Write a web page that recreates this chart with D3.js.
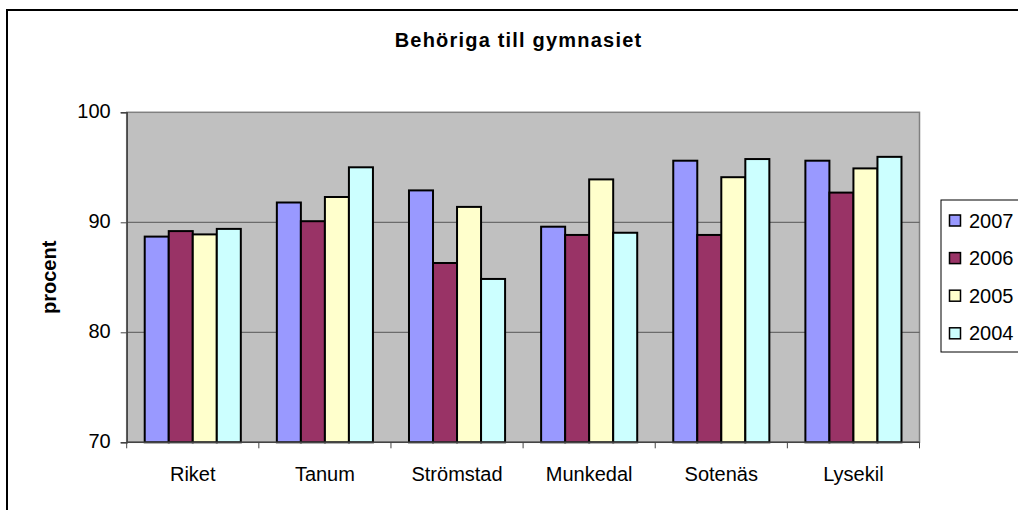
<!DOCTYPE html>
<html>
<head>
<meta charset="utf-8">
<script src="https://cdn.jsdelivr.net/npm/d3@7"></script>
<style>
  body { margin: 0; background: #fff; }
  svg { display: block; font-family: "Liberation Sans", Arial, sans-serif; }
</style>
</head>
<body>
<script>
const categories = ["Riket", "Tanum", "Strömstad", "Munkedal", "Sotenäs", "Lysekil"];
const seriesNames = ["2007", "2006", "2005", "2004"];
const seriesColors = ["#9999FF", "#993366", "#FFFFCC", "#CCFFFF"];
const v2007 = [88.7, 91.8, 92.9, 89.6, 95.6, 95.6];
const v2006 = [89.2, 90.1, 86.3, 88.85, 88.85, 92.7];
const v2005 = [88.9, 92.3, 91.4, 93.9, 94.1, 94.9];
const v2004 = [89.4, 95.0, 84.85, 89.05, 95.75, 95.95];
const yTicks = [70, 80, 90, 100];

const values = [v2007, v2006, v2005, v2004];
const width = 1018, height = 510;
const plotLeft = 126.7, plotRight = 919.5, plotTop = 112.3, plotBottom = 442.3;

const svg = d3.select("body").append("svg")
  .attr("width", width)
  .attr("height", height);

// chart frame (runs off the right and bottom edge)
svg.append("rect")
  .attr("x", 7).attr("y", 10)
  .attr("width", 1040).attr("height", 540)
  .attr("fill", "#fff")
  .attr("stroke", "#000")
  .attr("stroke-width", 2);

const x0 = d3.scaleBand()
  .domain(categories)
  .range([plotLeft, plotRight])
  .paddingInner(1.5 / 5.5)
  .paddingOuter(0.75 / 5.5);
const x1 = d3.scaleBand()
  .domain(seriesNames)
  .range([0, x0.bandwidth()]);
const y = d3.scaleLinear().domain([70, 100]).range([plotBottom, plotTop]);

// plot area
svg.append("rect")
  .attr("x", plotLeft).attr("y", plotTop)
  .attr("width", plotRight - plotLeft).attr("height", plotBottom - plotTop)
  .attr("fill", "#c0c0c0")
  .attr("stroke", "#808080")
  .attr("stroke-width", 1.5);

// gridlines
svg.append("g")
  .selectAll("line")
  .data(yTicks.slice(1, -1))
  .join("line")
  .attr("x1", plotLeft).attr("x2", plotRight)
  .attr("y1", d => y(d)).attr("y2", d => y(d))
  .attr("stroke", "#555")
  .attr("stroke-width", 1);

// bars
const table = categories.map((c, i) => ({ cat: c, vals: seriesNames.map((s, j) => ({ s, j, v: values[j][i] })) }));
svg.append("g")
  .selectAll("g")
  .data(table)
  .join("g")
  .attr("transform", d => `translate(${x0(d.cat)},0)`)
  .selectAll("rect")
  .data(d => d.vals)
  .join("rect")
  .attr("x", d => x1(d.s))
  .attr("y", d => y(d.v))
  .attr("width", x1.bandwidth())
  .attr("height", d => y(70) - y(d.v))
  .attr("fill", d => seriesColors[d.j])
  .attr("stroke", "#000")
  .attr("stroke-width", 2);

// y axis
const yAxis = svg.append("g")
  .attr("transform", `translate(${plotLeft},0)`)
  .call(d3.axisLeft(y).tickValues(yTicks).tickSize(6).tickPadding(10));
yAxis.select(".domain").attr("stroke", "#444").attr("stroke-width", 1.5);
yAxis.selectAll(".tick line").attr("stroke", "#444");
yAxis.selectAll(".tick text")
  .attr("font-size", 20)
  .attr("font-family", "Liberation Sans, Arial, sans-serif")
  .attr("fill", "#000")
  .attr("dy", "0.28em");

// x axis line and ticks at category boundaries
const boundaries = categories.map(c => x0(c) - x0.step() * x0.paddingOuter()).concat([plotRight]);
svg.append("line")
  .attr("x1", plotLeft).attr("x2", plotRight)
  .attr("y1", plotBottom).attr("y2", plotBottom)
  .attr("stroke", "#444").attr("stroke-width", 1.5);
svg.append("g")
  .selectAll("line")
  .data(boundaries)
  .join("line")
  .attr("x1", d => d).attr("x2", d => d)
  .attr("y1", plotBottom).attr("y2", plotBottom + 6)
  .attr("stroke", "#444");
svg.append("g")
  .selectAll("text")
  .data(categories)
  .join("text")
  .attr("x", d => x0(d) + x0.bandwidth() / 2)
  .attr("y", 481)
  .attr("text-anchor", "middle")
  .attr("font-size", 20)
  .text(d => d);

// title
svg.append("text")
  .attr("x", 518.5).attr("y", 47)
  .attr("text-anchor", "middle")
  .attr("font-size", 20)
  .attr("font-weight", "bold")
  .attr("letter-spacing", 1.2)
  .text("Behöriga till gymnasiet");

// y axis title
svg.append("text")
  .attr("transform", `translate(56,${(plotTop + plotBottom) / 2}) rotate(-90)`)
  .attr("text-anchor", "middle")
  .attr("font-size", 20)
  .attr("font-weight", "bold")
  .text("procent");

// legend
const legend = svg.append("g");
legend.append("rect")
  .attr("x", 941).attr("y", 200)
  .attr("width", 120).attr("height", 152)
  .attr("fill", "#fff")
  .attr("stroke", "#000")
  .attr("stroke-width", 1);
const rows = legend.selectAll("g.row")
  .data(seriesNames)
  .join("g")
  .attr("class", "row")
  .attr("transform", (d, i) => `translate(0,${220.5 + i * 37.6})`);
rows.append("rect")
  .attr("x", 949.5).attr("y", -5.5)
  .attr("width", 11).attr("height", 11)
  .attr("fill", (d, i) => seriesColors[i])
  .attr("stroke", "#000")
  .attr("stroke-width", 1.5);
rows.append("text")
  .attr("x", 969).attr("y", 7)
  .attr("font-size", 20)
  .text(d => d);
</script>
</body>
</html>
